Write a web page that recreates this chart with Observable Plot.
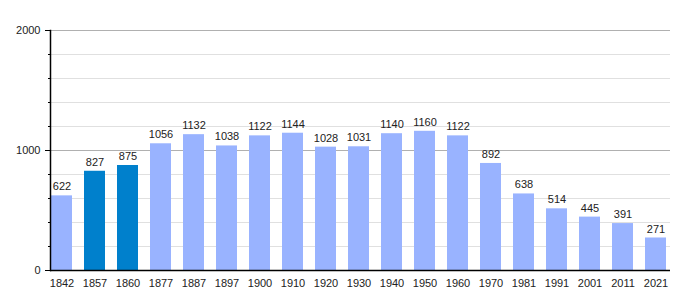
<!DOCTYPE html>
<html>
<head>
<meta charset="utf-8">
<script src="https://cdn.jsdelivr.net/npm/d3@7"></script>
<script src="https://cdn.jsdelivr.net/npm/@observablehq/plot@0.6"></script>
<style>
  body { margin: 0; background: #fff; }
</style>
</head>
<body>
<div id="chart"></div>
<script>
const years = ["1842","1857","1860","1877","1887","1897","1900","1910","1920","1930","1940","1950","1960","1970","1981","1991","2001","2011","2021"];
const population = [622,827,875,1056,1132,1038,1122,1144,1028,1031,1140,1160,1122,892,638,514,445,391,271];
const highlighted = ["1857","1860"];
const majorTicks = [0,1000,2000];
const minorTicks = [200,400,600,800,1200,1400,1600,1800];

const data = years.map((y, i) => ({year: y, pop: population[i], hi: highlighted.includes(y)}));

const chart = Plot.plot({
  width: 700,
  height: 300,
  marginLeft: 50,
  marginRight: 30,
  marginTop: 30,
  marginBottom: 30,
  style: {fontFamily: "'Liberation Sans', Arial, sans-serif", fontSize: "11px", color: "#222", background: "#fff"},
  x: {type: "band", domain: years, range: [50.7, 671.7], paddingInner: 0.37, paddingOuter: 0, align: 0, label: null},
  y: {domain: [0, 2000], label: null},
  marks: [
    Plot.ruleY(minorTicks, {stroke: "#e0e0e0", strokeWidth: 1}),
    Plot.ruleY([1000, 2000], {stroke: "#b0b0b0", strokeWidth: 1}),
    Plot.barY(data, {x: "year", y: "pop", fill: d => d.hi ? "#0080cc" : "#99b3ff"}),
    Plot.text(data, {x: "year", y: "pop", text: d => String(d.pop), dy: -9, fill: "#222", fontSize: 11}),
    Plot.axisY({ticks: minorTicks, tickSize: 2, tickFormat: () => "", stroke: "#000"}),
    Plot.axisY({ticks: majorTicks, tickSize: 5, tickPadding: 5, tickFormat: d => String(d), stroke: "#000", fill: "#222", fontSize: 11}),
    Plot.axisX({tickSize: 0, tickPadding: 9, fill: "#222", fontSize: 11}),
    Plot.frame({anchor: "left", stroke: "#000", strokeWidth: 1.5}),
    Plot.ruleY([0], {stroke: "#000", strokeWidth: 1.5})
  ]
});
document.getElementById("chart").appendChild(chart);
</script>
</body>
</html>
